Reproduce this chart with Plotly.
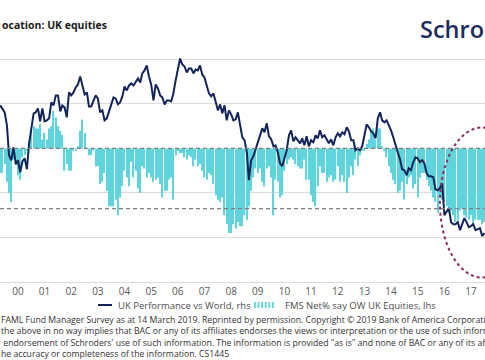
import plotly.graph_objects as go
import pandas as pd

# ---------------- data ----------------
months = pd.date_range("1999-11-01", periods=219, freq="MS")

# FMS Net% say OW UK Equities (lhs)
fms_net = [
    -11, -11, -7, -15, -20, -24, -5, -7, -12, -14,
    -4, -3, -1, 3, 8, 10, 9, 9, 11, 4,
    7, 4, 9, 10, 17, 14, 10, 8, 6, -10,
    -7, -10, -10, -1, -1, 1, 8, 13, 7, 0,
    -3, -3, -1, -8, -8, -16, -15, -11, -19, -26,
    -26, -26, -23, -30, -22, -17, -10, -13, -17, -6,
    -13, -10, -18, -20, -8, -9, -13, -11, -13, -15,
    -14, -13, -16, -22, -19, -19, -14, -13, -23, -3,
    -1, -2, -2, -4, -5, -3, -4, -8, -5, -8,
    -7, -10, -13, -14, -11, -12, -16, -21, -23, -24,
    -22, -30, -34, -38, -38, -34, -36, -33, -35, -35,
    -30, -32, -26, -19, -13, -9, -11, -9, -15, -17,
    -9, -8, -13, -30, -14, -15, -22, -21, -10, -7,
    -5, -4, -5, -7, -8, -9, -9, -5, -14, -14,
    -21, -24, -26, -17, -8, -11, -11, -15, -13, -12,
    -15, -14, -8, -15, -12, -15, -20, -13, -8, -12,
    -5, -8, -3, -1, -1, 2, 4, 8, 9, 4,
    9, 9, 1, -1, -4, -8, -11, -14, -16, -20,
    -19, -15, -23, -16, -13, -12, -18, -16, -22, -13,
    -11, -11, -14, -17, -19, -22, -24, -29, -21, -23,
    -24, -26, -29, -28, -30, -33, -32, -28, -27, -30,
    -31, -32, -30, -35, -32, -32, -32, -34, -33,
]

# UK performance vs World (rhs, relative index)
uk_rel = [
    95.4, 94.8, 94.0, 91.4, 85.4, 84.4, 87.0, 83.6, 84.4, 82.0,
    84.2, 84.8, 82.6, 87.8, 90.4, 93.8, 94.0, 94.8, 92.2, 94.8,
    92.2, 92.4, 92.8, 96.0, 95.4, 97.4, 97.4, 94.2, 95.4, 95.0,
    93.0, 98.0, 97.4, 98.0, 99.0, 99.6, 101.2, 99.4, 97.6, 98.0,
    95.2, 95.2, 96.4, 97.4, 96.8, 94.0, 94.4, 92.4, 92.8, 94.2,
    95.6, 97.0, 96.8, 95.6, 96.0, 97.2, 99.2, 98.4, 99.4, 99.8,
    99.4, 100.2, 100.8, 100.0, 101.8, 102.4, 103.4, 101.2, 99.6, 96.4,
    99.6, 98.8, 97.4, 97.0, 95.6, 96.4, 96.4, 96.2, 97.8, 100.4,
    103.0, 104.8, 103.6, 103.2, 102.0, 102.8, 102.8, 101.8, 102.6, 102.4,
    103.4, 101.6, 101.0, 99.4, 97.8, 97.2, 97.8, 96.2, 94.4, 95.6,
    93.8, 95.4, 92.4, 94.4, 93.6, 92.4, 92.6, 94.0, 91.4, 89.0,
    88.4, 86.0, 80.4, 84.4, 85.2, 86.6, 88.4, 89.6, 90.8, 90.0,
    91.8, 89.2, 88.6, 87.2, 87.4, 86.0, 83.8, 83.2, 84.6, 86.4,
    89.4, 90.4, 88.2, 89.0, 88.4, 87.8, 88.8, 87.4, 89.2, 87.2,
    88.4, 88.0, 89.4, 88.8, 90.4, 89.0, 89.4, 88.6, 87.8, 88.6,
    87.4, 89.0, 89.8, 89.2, 90.0, 89.6, 91.0, 90.2, 88.4, 88.4,
    86.4, 86.8, 86.4, 87.2, 89.2, 91.6, 91.0, 90.2, 89.8, 88.8,
    92.8, 94.0, 92.4, 92.0, 92.4, 91.4, 90.4, 89.0, 87.2, 86.0,
    84.6, 82.6, 82.4, 81.4, 82.8, 82.4, 84.0, 85.0, 84.8, 84.0,
    84.4, 83.8, 81.8, 81.2, 81.2, 81.0, 78.6, 78.4, 78.8, 79.8,
    73.4, 74.2, 74.8, 72.0, 71.6, 71.6, 72.0, 70.4, 71.6, 72.8,
    72.0, 71.0, 71.2, 71.6, 70.4, 70.6, 70.8, 69.2, 69.8,
]

years = list(range(2000, 2018))
year_labels = [f"{y % 100:02d}" for y in years]
ref_levels = [0, -27]  # dashed reference levels on lhs

footnote_lines = [
    "FAML Fund Manager Survey as at 14 March 2019. Reprinted by permission. Copyright © 2019 Bank of America Corporation. All rights reserved.",
    "the above in no way implies that BAC or any of its affiliates endorses the views or interpretation or the use of such information",
    "\u00a0endorsement of Schroders' use of such information. The information is provided \"as is\" and none of BAC or any of its affiliates",
    "he accuracy or completeness of the information. CS1445",
]

# ---------------- layout helpers ----------------
W, H = 485, 360
TOP, BOTTOM = 55, 282


def px(x):
    return x / W


def py(y):
    return (BOTTOM - y) / (BOTTOM - TOP)


NAVY = "#13245a"
CYAN = "#5fd4dc"
GREY_TXT = "#4d4d4d"
FONT = "Open Sans"

fig = go.Figure()
fig.add_trace(go.Bar(x=months, y=fms_net, marker_color=CYAN, marker_line_width=0,
                     name="FMS Net% say OW UK Equities, lhs", yaxis="y"))
fig.add_trace(go.Scatter(x=months, y=uk_rel, mode="lines",
                         line=dict(color=NAVY, width=2),
                         name="UK Performance vs World, rhs", yaxis="y2"))

shapes = []
for lvl in ref_levels:
    shapes.append(dict(type="line", xref="paper", yref="y", x0=0, x1=1, y0=lvl, y1=lvl,
                       line=dict(color="#7f7f7f", width=1.2, dash="4px,3px"), layer="above"))
# highlight ellipse
shapes.append(dict(type="circle", xref="x", yref="y", x0="2016-05-01", x1="2019-06-27",
                   y0=-58, y1=9.4, line=dict(color="#8b2b62", width=2, dash="dot"),
                   layer="above"))
# legend symbols
shapes.append(dict(type="line", xref="paper", yref="paper", x0=px(98), x1=px(112),
                   y0=py(305), y1=py(305), line=dict(color=NAVY, width=2)))
for i in range(6):
    x0 = 254 + i * 3.6
    shapes.append(dict(type="rect", xref="paper", yref="paper", x0=px(x0), x1=px(x0 + 1.8),
                       y0=py(308), y1=py(302), fillcolor=CYAN, line=dict(width=0)))

annotations = [
    dict(text="<b>ocation: UK equities</b>", x=px(0), y=py(25), xanchor="left", yanchor="middle",
         font=dict(family=FONT, size=10.5, color="#1a1a1a")),
    dict(text="Schroders", x=px(418), y=py(29), xanchor="left", yanchor="middle",
         font=dict(family=FONT, size=23.5, color="#1b2d5c", weight=600)),
    dict(text="UK Performance vs World, rhs", x=px(116), y=py(305), xanchor="left", yanchor="middle",
         font=dict(family=FONT, size=9.5, color=GREY_TXT)),
    dict(text="FMS Net% say OW UK Equities, lhs", x=px(283), y=py(305), xanchor="left", yanchor="middle",
         font=dict(family=FONT, size=9.5, color=GREY_TXT)),
    dict(text="<br>".join(footnote_lines), x=px(-1), y=py(311.5), xanchor="left", yanchor="top",
         align="left", font=dict(family=FONT, size=8.7, color="#333333")),
]
for a in annotations:
    a.update(xref="paper", yref="paper", showarrow=False)

fig.update_layout(
    width=W, height=H,
    margin=dict(l=0, r=0, t=TOP, b=H - BOTTOM, pad=0, autoexpand=False),
    paper_bgcolor="white", plot_bgcolor="white",
    showlegend=False, bargap=0.4,
    xaxis=dict(type="date", range=["1999-10-29", "2018-01-09"], automargin=False,
               tickvals=[f"{y}-07-01" for y in years], ticktext=year_labels,
               showgrid=False, zeroline=False, showline=True, linecolor="#d9d9d9", linewidth=1,
               ticks="", tickfont=dict(family=FONT, size=10, color="#595959")),
    yaxis=dict(range=[-60, 42], tickvals=[-40, -20, 20, 40], showticklabels=False, automargin=False,
               showgrid=True, gridcolor="#dcdcdc", gridwidth=1, zeroline=False),
    yaxis2=dict(range=[60, 105.5], overlaying="y", side="right", visible=False, automargin=False),
    shapes=shapes, annotations=annotations,
)

fig.write_html("out.html", config={"displayModeBar": False},
               post_script="document.body.style.margin='0';document.body.style.overflow='hidden';")
